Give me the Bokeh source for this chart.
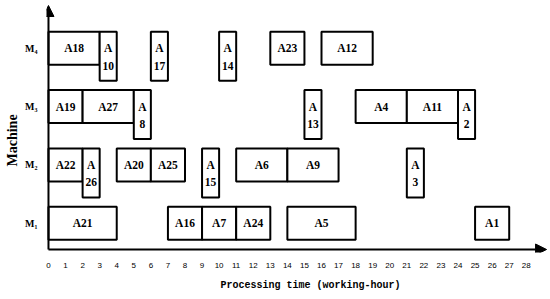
from bokeh.plotting import figure
from bokeh.models import FixedTicker, Arrow, NormalHead, ColumnDataSource, Title
from bokeh.embed import file_html
from bokeh.resources import INLINE
from bokeh.core.properties import value

# ---------------- data ----------------
machines = ["M₁", "M₂", "M₃", "M₄"]

job_names = ["A18", "A10", "A17", "A14", "A23", "A12",
             "A19", "A27", "A8", "A13", "A4", "A11", "A2",
             "A22", "A26", "A20", "A25", "A15", "A6", "A9", "A3",
             "A21", "A16", "A7", "A24", "A5", "A1"]
job_machine = ["M₄", "M₄", "M₄", "M₄", "M₄", "M₄",
               "M₃", "M₃", "M₃", "M₃", "M₃", "M₃", "M₃",
               "M₂", "M₂", "M₂", "M₂", "M₂", "M₂", "M₂", "M₂",
               "M₁", "M₁", "M₁", "M₁", "M₁", "M₁"]
job_start = [0, 3, 6, 10, 13, 16,
             0, 2, 5, 15, 18, 21, 24,
             0, 2, 4, 6, 9, 11, 14, 21,
             0, 7, 9, 11, 14, 25]
job_end = [3, 4, 7, 11, 15, 19,
           2, 5, 6, 16, 21, 24, 25,
           2, 3, 6, 8, 10, 14, 17, 22,
           4, 9, 11, 13, 18, 27]

x_ticks = [0, 1, 2, 3, 4, 5, 6, 7, 8, 9, 10, 11, 12, 13, 14,
           15, 16, 17, 18, 19, 20, 21, 22, 23, 24, 25, 26, 27, 28]

x_title = "Processing time (working-hour)"
y_title = "Machine"

# ---------------- geometry / style ----------------
HALF = 0.283        # half height of a normal box
TALL = 0.557        # extent below row centre of a short (1 h) box
LINE_GAP = 0.30     # second text line offset in short boxes
SERIF = "Liberation Serif"

rows = [machines.index(m) + 1 for m in job_machine]
short = [(e - s) == 1 for s, e in zip(job_start, job_end)]

box_src = ColumnDataSource(dict(
    left=job_start, right=job_end,
    top=[r + HALF for r in rows],
    bottom=[r - (TALL if sh else HALF) for r, sh in zip(rows, short)],
))

wide_src = ColumnDataSource(dict(
    x=[(s + e) / 2 for s, e, sh in zip(job_start, job_end, short) if not sh],
    y=[r for r, sh in zip(rows, short) if not sh],
    t=[n for n, sh in zip(job_names, short) if not sh],
))
tall_a_src = ColumnDataSource(dict(
    x=[(s + e) / 2 for s, e, sh in zip(job_start, job_end, short) if sh],
    y=[r for r, sh in zip(rows, short) if sh],
    t=[n[0] for n, sh in zip(job_names, short) if sh],
))
tall_n_src = ColumnDataSource(dict(
    x=[(s + e) / 2 for s, e, sh in zip(job_start, job_end, short) if sh],
    y=[r - LINE_GAP for r, sh in zip(rows, short) if sh],
    t=[n[1:] for n, sh in zip(job_names, short) if sh],
))

X_AXIS_Y = 0.549

p = figure(width=550, height=299,
           x_range=(-0.116, 29.42), y_range=(0.4975, 4.82),
           output_backend="svg", toolbar_location=None,
           min_border_left=42, min_border_right=0,
           min_border_top=0, min_border_bottom=47)
p.outline_line_color = None
p.xgrid.visible = False
p.ygrid.visible = False
p.background_fill_color = "white"
p.border_fill_color = "white"

# boxes
p.quad(left="left", right="right", top="top", bottom="bottom", source=box_src,
       fill_color="white", line_color="black", line_width=2)

text_kw = dict(text_font=value(SERIF), text_font_style="bold",
               text_font_size="11.5px", text_align="center",
               text_baseline="middle", text_color="black")
p.text(x="x", y="y", text="t", source=wide_src, **text_kw)
p.text(x="x", y="y", text="t", source=tall_a_src, **text_kw)
p.text(x="x", y="y", text="t", source=tall_n_src, **text_kw)

# axes
xa = p.xaxis[0]
xa.ticker = FixedTicker(ticks=x_ticks)
xa.axis_line_color = None
xa.major_tick_line_color = None
xa.minor_tick_line_color = None
xa.major_label_standoff = 4
xa.major_label_text_font = "Liberation Sans"
xa.major_label_text_font_size = "8px"
xa.major_label_text_color = "black"

ya = p.yaxis[0]
ya.ticker = FixedTicker(ticks=[1, 2, 3, 4])
ya.major_label_overrides = {i + 1: m for i, m in enumerate(machines)}
ya.axis_line_color = None
ya.major_tick_line_color = None
ya.minor_tick_line_color = None
ya.major_label_standoff = 3
ya.major_label_text_font = SERIF
ya.major_label_text_font_style = "bold"
ya.major_label_text_font_size = "10px"
ya.major_label_text_color = "black"

# axis lines with arrow heads
p.add_layout(Arrow(x_start=0, y_start=X_AXIS_Y, x_end=29.19, y_end=X_AXIS_Y,
                   line_width=2, line_color="black",
                   end=NormalHead(size=11, fill_color="black", line_color="black")))
p.add_layout(Arrow(x_start=0, y_start=X_AXIS_Y, x_end=0, y_end=4.734,
                   line_width=2, line_color="black",
                   end=NormalHead(size=11, fill_color="black", line_color="black")))

# axis titles
p.add_layout(Title(text=x_title, align="left", offset=174, standoff=15,
                   text_font="Liberation Mono", text_font_style="bold",
                   text_font_size="10px", text_color="black"), "below")
p.add_layout(Title(text=y_title, align="left", offset=86, standoff=5,
                   text_font=SERIF, text_font_style="bold",
                   text_font_size="14px", text_color="black"), "left")

open("out.html", "w").write(file_html(p, INLINE))
